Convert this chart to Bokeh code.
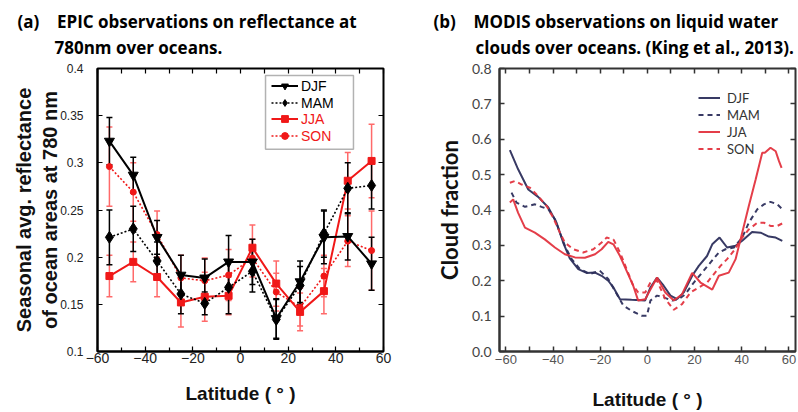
from bokeh.plotting import figure
from bokeh.models import (ColumnDataSource, Whisker, TeeHead, Legend, LegendItem,
                          LinearAxis, Range1d, Title, NumeralTickFormatter, FixedTicker,
                          BoxAnnotation)
from bokeh.layouts import row
from bokeh.embed import file_html
from bokeh.resources import INLINE

# ---------------- Panel (a): EPIC reflectance ----------------
lat_a = [-55, -45, -35, -25, -15, -5, 5, 15, 25, 35, 45, 55]
djf_a = [0.323, 0.287, 0.221, 0.181, 0.178, 0.195, 0.195, 0.135, 0.174, 0.221, 0.222, 0.193]
djf_err = [0.025, 0.019, 0.018, 0.021, 0.020, 0.028, 0.024, 0.021, 0.022, 0.028, 0.025, 0.028]
mam_a = [0.221, 0.230, 0.196, 0.161, 0.151, 0.168, 0.185, 0.134, 0.170, 0.225, 0.273, 0.276]
mam_err = [0.029, 0.024, 0.020, 0.021, 0.012, 0.028, 0.022, 0.021, 0.020, 0.025, 0.027, 0.025]
jja_a = [0.180, 0.195, 0.179, 0.152, 0.158, 0.159, 0.210, 0.172, 0.142, 0.164, 0.281, 0.302]
jja_err = [0.022, 0.021, 0.021, 0.026, 0.026, 0.020, 0.024, 0.024, 0.020, 0.024, 0.030, 0.039]
son_a = [0.296, 0.269, 0.224, 0.178, 0.175, 0.181, 0.199, 0.163, 0.147, 0.180, 0.217, 0.207]
son_err = [0.042, 0.031, 0.025, 0.024, 0.024, 0.027, 0.020, 0.020, 0.020, 0.022, 0.027, 0.042]

xticks_a = [-60, -40, -20, 0, 20, 40, 60]
xminor_a = [-50, -30, -10, 10, 30, 50]
yticks_a = [0.1, 0.15, 0.2, 0.25, 0.3, 0.35, 0.4]

# ---------------- Panel (b): MODIS cloud fraction ----------------
djf_b_lat = [-58.3, -54.8, -50.5, -46.3, -42.0, -38.5, -35.7, -32.9, -29.3, -25.8, -22.2, -19.4,
             -16.6, -14.4, -11.6, -6.7, -1.0, 1.3, 4.1, 6.9, 9.8, 12.6, 15.4, 19.0, 21.8, 25.3,
             27.5, 30.6, 33.8, 37.4, 40.2, 44.4, 48.0, 51.5, 54.4, 57.2]
djf_b = [0.569, 0.515, 0.458, 0.437, 0.407, 0.364, 0.308, 0.263, 0.233, 0.222, 0.223, 0.214,
         0.200, 0.181, 0.148, 0.146, 0.144, 0.181, 0.209, 0.186, 0.158, 0.148, 0.167, 0.214,
         0.242, 0.270, 0.303, 0.322, 0.294, 0.299, 0.313, 0.338, 0.336, 0.325, 0.322, 0.313]
mam_b_lat = [-57.6, -55.5, -51.9, -47.7, -44.9, -42.0, -39.2, -37.1, -35.0, -32.1, -28.6, -24.4,
             -20.1, -16.6, -13.8, -10.2, -6.7, -2.5, -0.2, 1.3, 4.1, 6.9, 10.5, 13.3, 16.1,
             19.7, 23.2, 26.8, 30.3, 33.1, 36.7, 40.2, 43.0, 46.6, 49.4, 52.2, 55.1, 57.2]
mam_b = [0.449, 0.421, 0.409, 0.416, 0.409, 0.402, 0.374, 0.336, 0.299, 0.261, 0.233, 0.219,
         0.228, 0.205, 0.172, 0.130, 0.115, 0.101, 0.101, 0.144, 0.158, 0.153, 0.144, 0.148,
         0.162, 0.195, 0.223, 0.252, 0.280, 0.289, 0.294, 0.322, 0.364, 0.402, 0.416, 0.423,
         0.416, 0.402]
jja_b_lat = [-58.3, -56.9, -54.8, -51.9, -47.7, -43.5, -39.2, -35.0, -30.7, -26.5, -22.2, -19.4,
             -16.6, -14.4, -11.6, -8.8, -6.0, -3.9, -0.9, 0.6, 4.1, 7.6, 11.2, 14.7, 19.0,
             22.5, 27.5, 30.3, 34.5, 37.4, 40.2, 43.0, 45.9, 48.7, 49.8, 52.2, 54.4, 55.8, 56.9]
jja_b = [0.421, 0.430, 0.392, 0.350, 0.336, 0.317, 0.294, 0.275, 0.266, 0.265, 0.275, 0.289,
         0.310, 0.303, 0.270, 0.228, 0.186, 0.144, 0.148, 0.167, 0.209, 0.167, 0.144, 0.162,
         0.222, 0.195, 0.175, 0.214, 0.223, 0.261, 0.336, 0.411, 0.486, 0.562, 0.562, 0.576,
         0.566, 0.538, 0.519]
son_b_lat = [-58.3, -56.2, -53.3, -49.8, -46.3, -42.7, -39.9, -37.1, -35.0, -31.4, -27.2, -22.9,
             -19.4, -17.3, -14.4, -11.6, -8.8, -6.0, -3.9, -0.9, 1.3, 4.1, 7.6, 11.2, 14.7,
             18.3, 21.8, 25.3, 28.2, 31.0, 33.8, 36.7, 40.2, 43.0, 46.6, 49.4, 52.2, 55.1, 57.2]
son_b = [0.477, 0.482, 0.472, 0.463, 0.439, 0.411, 0.378, 0.336, 0.308, 0.289, 0.280, 0.289,
         0.308, 0.322, 0.317, 0.280, 0.233, 0.186, 0.167, 0.167, 0.195, 0.200, 0.148, 0.118,
         0.134, 0.167, 0.181, 0.195, 0.219, 0.242, 0.261, 0.285, 0.322, 0.345, 0.364, 0.364,
         0.355, 0.355, 0.362]

xticks_b = [-60, -40, -20, 0, 20, 40, 60]
xminor_b = [-50, -30, -10, 10, 30, 50]
yticks_b = [0.0, 0.1, 0.2, 0.3, 0.4, 0.5, 0.6, 0.7, 0.8]

RED = "#f01818"
RED_ERR = "#ff6a6a"
NAVY = "#2d2f5c"
CRIMSON = "#e3343f"

TITLE_FONT = "Open Sans"
TITLE_SIZE = "17px"
CAL = "Lato"
ARIAL = "Liberation Sans"
NB = "\u00a0"


def mirror_axis(ticker, color, width, tick_len, minor_len):
    ax = LinearAxis(ticker=ticker)
    ax.axis_line_color = None
    ax.major_tick_in = tick_len
    ax.major_tick_out = 0
    ax.minor_tick_in = minor_len
    ax.minor_tick_out = 0
    ax.major_tick_line_color = color
    ax.minor_tick_line_color = color
    ax.major_tick_line_width = width
    ax.minor_tick_line_width = width
    ax.major_label_text_font_size = "0px"
    ax.major_label_standoff = 0
    return ax


def add_titles(p, line1, off1, line2, off2):
    # spacer so the two title lines sit a little higher above the frame
    p.add_layout(Title(text=NB, text_font_size="5px", standoff=0), "above")
    p.add_layout(Title(text=line2, align="left", offset=off2,
                       text_font=TITLE_FONT, text_font_size=TITLE_SIZE, text_font_style="bold",
                       text_color="black", standoff=3), "above")
    p.add_layout(Title(text=line1, align="left", offset=off1,
                       text_font=TITLE_FONT, text_font_size=TITLE_SIZE, text_font_style="bold",
                       text_color="black", standoff=0), "above")


# ====================== Figure (a) ======================
pa = figure(width=404, height=412, x_range=Range1d(-60, 60), y_range=Range1d(0.1, 0.4),
            output_backend="svg", toolbar_location=None,
            min_border_left=97, min_border_right=21, min_border_top=68, min_border_bottom=57)
pa.grid.visible = False
pa.outline_line_color = "black"
pa.outline_line_width = 2

src_a = ColumnDataSource(dict(
    lat=lat_a,
    djf=djf_a, djf_lo=[v - e for v, e in zip(djf_a, djf_err)], djf_hi=[v + e for v, e in zip(djf_a, djf_err)],
    mam=mam_a, mam_lo=[v - e for v, e in zip(mam_a, mam_err)], mam_hi=[v + e for v, e in zip(mam_a, mam_err)],
    jja=jja_a, jja_lo=[v - e for v, e in zip(jja_a, jja_err)], jja_hi=[v + e for v, e in zip(jja_a, jja_err)],
    son=son_a, son_lo=[v - e for v, e in zip(son_a, son_err)], son_hi=[v + e for v, e in zip(son_a, son_err)],
))

style_a = {
    "djf": dict(color="black", err="black", dash="solid", lw=2.0, marker="inverted_triangle", size=10),
    "mam": dict(color="black", err="black", dash="2 2", lw=1.6, marker="diamond", size=12),
    "jja": dict(color=RED, err=RED_ERR, dash="solid", lw=2.0, marker="square", size=7),
    "son": dict(color=RED, err=RED_ERR, dash="2 2", lw=1.6, marker="circle", size=6),
}

rend_a = {}
for key in ["jja", "son", "mam", "djf"]:
    st = style_a[key]
    w = Whisker(source=src_a, base="lat", upper=key + "_hi", lower=key + "_lo",
                line_color=st["err"], line_width=1.5,
                upper_head=TeeHead(size=6, line_color=st["err"], line_width=1.5),
                lower_head=TeeHead(size=6, line_color=st["err"], line_width=1.5))
    pa.add_layout(w)
for key in ["jja", "son", "mam", "djf"]:
    st = style_a[key]
    ln = pa.line("lat", key, source=src_a, line_color=st["color"], line_width=st["lw"],
                 line_dash=st["dash"])
    mk = pa.scatter("lat", key, source=src_a, marker=st["marker"], size=st["size"],
                    fill_color=st["color"], line_color=st["color"])
    rend_a[key] = [ln, mk]

xa = pa.xaxis[0]
xa.ticker = FixedTicker(ticks=xticks_a, minor_ticks=xminor_a)
ya = pa.yaxis[0]
ya.ticker = FixedTicker(ticks=yticks_a)
ya.formatter = NumeralTickFormatter(format="0.[00]")
for ax in (xa, ya):
    ax.axis_line_color = "black"
    ax.axis_line_width = 2
    ax.major_tick_in = 5
    ax.major_tick_out = 0
    ax.minor_tick_in = 4
    ax.minor_tick_out = 0
    ax.major_tick_line_color = "black"
    ax.minor_tick_line_color = "black"
    ax.major_tick_line_width = 1.2
    ax.minor_tick_line_width = 1.2
    ax.major_label_text_font = ARIAL
    ax.major_label_text_color = "#222222"
    ax.axis_label_text_font = ARIAL
    ax.axis_label_text_font_style = "bold"
    ax.axis_label_text_color = "#111111"
xa.major_label_text_font_size = "14px"
xa.major_label_standoff = 1
xa.axis_label = "Latitude ( \u00b0 )"
xa.axis_label_text_font_size = "19px"
xa.axis_label_standoff = 17
ya.major_label_text_font_size = "12px"
ya.major_label_standoff = 14
ya.axis_label = "Seasonal avg. reflectance\nof ocean areas at 780 nm"
ya.axis_label_text_font_size = "20px"
ya.axis_label_standoff = -4
ya.minor_tick_line_color = None

pa.add_layout(mirror_axis(FixedTicker(ticks=list(range(-60, 61, 10))), "black", 1.2, 5, 4), "above")
pa.add_layout(mirror_axis(FixedTicker(ticks=yticks_a), "black", 1.2, 5, 4), "right")

# legend (a): boxed, label text coloured per series
pa.add_layout(BoxAnnotation(left=10.5, right=47.4, top=0.3927, bottom=0.3143,
                            fill_alpha=0, line_color="black", line_width=1.5))
leg_kw = dict(padding=0, margin=0, spacing=0, label_height=17, glyph_height=17, glyph_width=27,
              label_standoff=3, label_text_font=ARIAL, label_text_font_size="14px",
              border_line_color=None, background_fill_alpha=0)
leg_black = Legend(items=[LegendItem(label="DJF", renderers=rend_a["djf"]),
                          LegendItem(label="MAM", renderers=rend_a["mam"])],
                   location=(174, 240), label_text_color="black", **leg_kw)
leg_red = Legend(items=[LegendItem(label="JJA", renderers=rend_a["jja"]),
                        LegendItem(label="SON", renderers=rend_a["son"])],
                 location=(174, 207), label_text_color=RED, **leg_kw)
pa.add_layout(leg_black)
pa.add_layout(leg_red)

add_titles(pa, "(a)" + NB * 4 + "EPIC observations on reflectance at", -80,
           "780nm over oceans.", -43)

# ====================== Figure (b) ======================
pb = figure(width=394, height=412, x_range=Range1d(-62.7, 62.8), y_range=Range1d(0, 0.8),
            output_backend="svg", toolbar_location=None,
            min_border_left=95, min_border_right=3, min_border_top=68, min_border_bottom=59)
pb.grid.visible = False
pb.outline_line_color = "#333333"
pb.outline_line_width = 2

series_b = [
    ("DJF", djf_b_lat, djf_b, NAVY, "solid"),
    ("MAM", mam_b_lat, mam_b, NAVY, "5 4"),
    ("JJA", jja_b_lat, jja_b, CRIMSON, "solid"),
    ("SON", son_b_lat, son_b, CRIMSON, "5 4"),
]
items_b = []
for name, lats, vals, col, dash in series_b:
    src = ColumnDataSource(dict(lat=lats, val=vals))
    r = pb.line("lat", "val", source=src, line_color=col, line_width=2, line_dash=dash,
                line_alpha=0.95)
    items_b.append(LegendItem(label=name, renderers=[r]))

xb = pb.xaxis[0]
xb.ticker = FixedTicker(ticks=xticks_b, minor_ticks=xminor_b)
yb = pb.yaxis[0]
yb.ticker = FixedTicker(ticks=yticks_b)
yb.formatter = NumeralTickFormatter(format="0.0")
for ax in (xb, yb):
    ax.axis_line_color = "#333333"
    ax.axis_line_width = 2
    ax.major_tick_in = 5
    ax.major_tick_out = 0
    ax.minor_tick_in = 5
    ax.minor_tick_out = 0
    ax.major_tick_line_color = "#333333"
    ax.minor_tick_line_color = "#333333"
    ax.major_tick_line_width = 1.5
    ax.minor_tick_line_width = 1.5
yb.minor_tick_line_color = None
xb.major_label_text_font = ARIAL
xb.major_label_text_font_size = "13px"
xb.major_label_text_color = "#555555"
xb.major_label_standoff = 3
xb.axis_label = "Latitude ( \u00b0 )"
xb.axis_label_text_font = ARIAL
xb.axis_label_text_font_style = "bold"
xb.axis_label_text_font_size = "19px"
xb.axis_label_text_color = "#111111"
xb.axis_label_standoff = 22
yb.major_label_text_font = CAL
yb.major_label_text_font_size = "14px"
yb.major_label_text_color = "#444444"
yb.major_label_standoff = 8
yb.axis_label = "Cloud fraction"
yb.axis_label_text_font = CAL
yb.axis_label_text_font_style = "bold"
yb.axis_label_text_font_size = "22px"
yb.axis_label_text_color = "#111111"
yb.axis_label_standoff = 6

pb.add_layout(mirror_axis(FixedTicker(ticks=list(range(-60, 61, 10))), "#333333", 1.5, 5, 5), "above")
pb.add_layout(mirror_axis(FixedTicker(ticks=yticks_b), "#333333", 1.5, 5, 5), "right")

leg_b = Legend(items=items_b, location=(199, 194), padding=0, margin=0, spacing=0,
               label_height=17, glyph_height=17, glyph_width=22, label_standoff=7,
               label_text_font=CAL, label_text_font_size="13px", label_text_color="#333333",
               border_line_color=None, background_fill_alpha=0)
pb.add_layout(leg_b)

add_titles(pb, "(b)" + NB * 4 + "MODIS observations on liquid water", -66,
           "clouds over oceans. (King et al., 2013).", -24)

layout = row(pa, pb)
open("out.html", "w").write(file_html(layout, INLINE))
